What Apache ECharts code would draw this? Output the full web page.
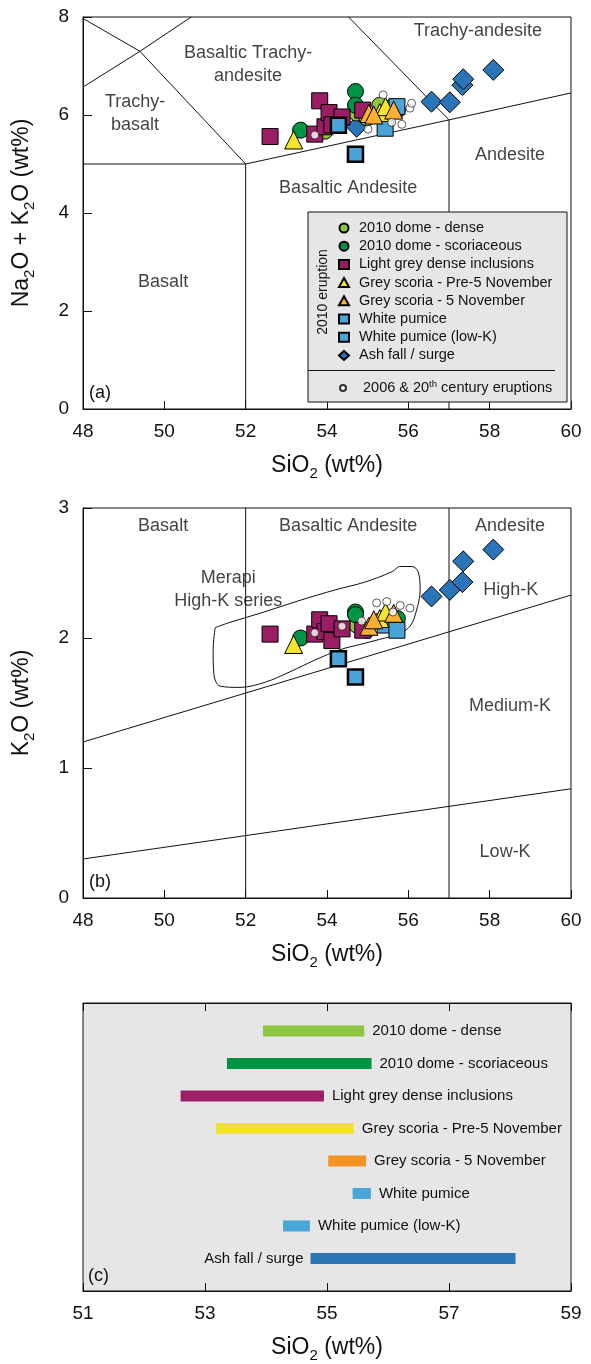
<!DOCTYPE html>
<html><head><meta charset="utf-8">
<script src="https://cdn.jsdelivr.net/npm/echarts@6/dist/echarts.min.js"></script>
<style>html,body{margin:0;padding:0;background:#fff}#c{width:591px;height:1364px}</style>
</head><body><div id="c"></div>
<script>
// ================= DATA =================
// 2010 dome - dense
const denseSiO2 = [53.95, 54.73, 54.98, 55.30, 55.61];
const denseTAS  = [5.67, 6.04, 5.94, 6.20, 6.17];
const denseK2O  = [2.05, 2.10, 2.06, 2.13, 2.16];
// 2010 dome - scoriaceous
const scorSiO2 = [53.35, 54.70, 54.70, 55.73];
const scorTAS  = [5.69, 6.48, 6.20, 6.10];
const scorK2O  = [2.00, 2.20, 2.18, 2.15];
// Light grey dense inclusions
const lgSiO2 = [52.60, 53.70, 53.82, 53.95, 54.05, 54.12, 54.37, 54.88];
const lgTAS  = [5.56, 5.61, 6.29, 5.76, 6.05, 5.80, 5.96, 6.10];
const lgK2O  = [2.03, 2.03, 2.14, 2.05, 2.11, 1.98, 2.07, 2.06];
// Grey scoria - Pre-5 November
const preSiO2 = [53.18, 55.30, 55.44];
const preTAS  = [5.49, 6.05, 6.17];
const preK2O  = [1.95, 2.15, 2.20];
// Grey scoria - 5 November
const novSiO2 = [55.03, 55.15, 55.64];
const novTAS  = [6.03, 6.00, 6.10];
const novK2O  = [2.09, 2.14, 2.19];
// White pumice
const wpSiO2 = [55.43, 55.72];
const wpTAS  = [5.73, 6.17];
const wpK2O  = [2.10, 2.06];
// White pumice (low-K)
const lkSiO2 = [54.28, 54.70];
const lkTAS  = [5.79, 5.20];
const lkK2O  = [1.84, 1.70];
// Ash fall / surge
const ashSiO2 = [54.73, 56.57, 57.02, 57.33, 57.35, 58.09];
const ashTAS  = [5.76, 6.27, 6.26, 6.61, 6.73, 6.92];
const ashK2O  = [2.10, 2.32, 2.37, 2.43, 2.59, 2.68];
// 2006 & 20th century eruptions
const oldSiO2a = [53.70, 55.01, 55.38, 55.59, 55.84, 56.04, 56.08];
const oldTAS   = [5.59, 5.71, 6.41, 5.85, 5.81, 6.14, 6.24];
const oldSiO2b = [53.70, 54.37, 54.85, 55.22, 55.47, 55.62, 55.80, 56.04];
const oldK2O   = [2.04, 2.09, 2.13, 2.27, 2.28, 2.20, 2.25, 2.23];

// Panel (c) SiO2 ranges
const rangeNames = ['2010 dome - dense', '2010 dome - scoriaceous', 'Light grey dense inclusions',
  'Grey scoria - Pre-5 November', 'Grey scoria - 5 November', 'White pumice',
  'White pumice (low-K)', 'Ash fall / surge'];
const rangeMin = [53.95, 53.36, 52.60, 53.18, 55.02, 55.42, 54.28, 54.73];
const rangeMax = [55.61, 55.73, 54.95, 55.44, 55.64, 55.72, 54.72, 58.09];

// Classification boundaries (SiO2, value)
const tasLines = [
  [[48, 7.97], [49.4, 7.3], [52, 5]],
  [[48, 6.57], [49.4, 7.3], [50.66, 8]],
  [[48, 5], [52, 5]],
  [[52, 0], [52, 5], [57, 5.9], [60, 6.45]],
  [[57, 0], [57, 5.9]],
  [[54.53, 8], [57, 5.9]]
];
const kLines = [
  [[52, 0], [52, 3]],
  [[57, 0], [57, 3]],
  [[48, 1.2], [60, 2.33]],
  [[48, 0.3], [60, 0.84]]
];
const merapiEnvelope = [[51.25,2.08],[51.61,2.12],[52.35,2.19],[53.34,2.29],[54.20,2.37],[54.93,2.43],
  [55.60,2.51],[55.79,2.55],[56.09,2.55],[56.24,2.51],[56.29,2.37],[56.19,2.20],[56.04,2.09],
  [55.75,2.03],[55.30,1.99],[54.81,1.95],[54.32,1.91],[53.70,1.83],[53.09,1.74],[52.48,1.66],
  [51.86,1.62],[51.37,1.63],[51.22,1.72],[51.20,1.91],[51.25,2.08]];

// Region labels [SiO2, value, text]
const tasLabels = [
  [57.71, 7.71, 'Trachy-andesite'],
  [52.06, 7.04, 'Basaltic Trachy-\nandesite'],
  [49.28, 6.04, 'Trachy-\nbasalt'],
  [58.50, 5.18, 'Andesite'],
  [54.52, 4.51, 'Basaltic Andesite'],
  [49.97, 2.59, 'Basalt']
];
const kLabels = [
  [49.97, 2.86, 'Basalt'],
  [54.52, 2.86, 'Basaltic Andesite'],
  [58.50, 2.86, 'Andesite'],
  [51.57, 2.37, 'Merapi\nHigh-K series'],
  [58.52, 2.37, 'High-K'],
  [58.50, 1.48, 'Medium-K'],
  [58.38, 0.35, 'Low-K']
];

// ================= STYLES =================
const FONT = '"Liberation Sans", Arial, sans-serif';
const INK = '#111111';
const groups = [
  {name: 'Ash fall / surge', x: ashSiO2, a: ashTAS, b: ashK2O, symbol: 'diamond', size: 21, color: '#2a74b8', bw: 1},
  {name: '2010 dome - dense', x: denseSiO2, a: denseTAS, b: denseK2O, symbol: 'circle', size: 16, color: '#8dc63f', bw: 1},
  {name: '2010 dome - scoriaceous', x: scorSiO2, a: scorTAS, b: scorK2O, symbol: 'circle', size: 16, color: '#009444', bw: 1},
  {name: 'Light grey dense inclusions', x: lgSiO2, a: lgTAS, b: lgK2O, symbol: 'rect', size: 16, color: '#9b1d64', bw: 1},
  {name: 'White pumice', x: wpSiO2, a: wpTAS, b: wpK2O, symbol: 'rect', size: 16, color: '#4ba4d8', bw: 1},
  {name: 'White pumice (low-K)', x: lkSiO2, a: lkTAS, b: lkK2O, symbol: 'rect', size: 15, color: '#4ba4d8', bw: 2.5},
  {name: 'Grey scoria - Pre-5 November', x: preSiO2, a: preTAS, b: preK2O, symbol: 'triangle', size: 18, color: '#f5e52c', bw: 1},
  {name: 'Grey scoria - 5 November', x: novSiO2, a: novTAS, b: novK2O, symbol: 'triangle', size: 18, color: '#fbb034', bw: 1}
];
const rangeColors = ['#8cc63f', '#009444', '#9e1f63', '#f0e22f', '#f39325', '#4ba6d8', '#4ba6d8', '#2b75b5'];

const pairs = (xs, ys) => xs.map((x, i) => [x, ys[i]]);
const richSub = {
  t: {fontSize: 23, lineHeight: 30, fontFamily: FONT, color: INK},
  s: {fontSize: 15, lineHeight: 16, verticalAlign: 'bottom', fontFamily: FONT, color: INK}
};
const sioName = '{t|SiO}{s|2}{t| (wt%)}';

function xAxisFor(grid, min, max) {
  return {
    type: 'value', gridIndex: grid, min: min, max: max, interval: 2,
    axisLine: {show: true, lineStyle: {color: INK, width: 1}},
    axisTick: {show: true, inside: true, length: 8, lineStyle: {color: INK}},
    axisLabel: {fontSize: 19, color: INK, fontFamily: FONT, margin: 13},
    splitLine: {show: false},
    name: sioName, nameLocation: 'middle', nameGap: 42,
    nameTextStyle: {rich: richSub}
  };
}

const series = [];
tasLines.forEach(seg => series.push({type: 'line', xAxisIndex: 0, yAxisIndex: 0, data: seg, symbol: 'none',
  silent: true, lineStyle: {color: INK, width: 1}, z: 1}));
kLines.forEach(seg => series.push({type: 'line', xAxisIndex: 1, yAxisIndex: 1, data: seg, symbol: 'none',
  silent: true, lineStyle: {color: INK, width: 1}, z: 1}));
series.push({type: 'line', xAxisIndex: 1, yAxisIndex: 1, data: merapiEnvelope, symbol: 'none', smooth: 0.35,
  silent: true, lineStyle: {color: INK, width: 1}, z: 1});

function labelSeries(xi, yi, arr) {
  return {type: 'scatter', xAxisIndex: xi, yAxisIndex: yi, symbolSize: 0, silent: true, z: 1,
    data: arr.map(d => ({value: [d[0], d[1]], name: d[2]})),
    label: {show: true, position: 'inside', formatter: '{b}', fontSize: 18, lineHeight: 23,
      color: INK, fontFamily: FONT, align: 'center'}};
}
series.push(labelSeries(0, 0, tasLabels));
series.push(labelSeries(1, 1, kLabels));

groups.forEach(g => {
  [['a', 0], ['b', 1]].forEach(([key, idx]) => {
    series.push({type: 'scatter', name: g.name, xAxisIndex: idx, yAxisIndex: idx,
      data: pairs(g.x, g[key]), symbol: g.symbol, symbolSize: g.size,
      itemStyle: {color: g.color, borderColor: '#000', borderWidth: g.bw, opacity: 1}, z: 3});
  });
});
series.push({type: 'scatter', name: '2006 & 20th century eruptions', xAxisIndex: 0, yAxisIndex: 0,
  data: pairs(oldSiO2a, oldTAS), symbol: 'circle', symbolSize: 8,
  itemStyle: {color: '#fff', borderColor: '#000', borderWidth: 0.8}, z: 4});
series.push({type: 'scatter', name: '2006 & 20th century eruptions', xAxisIndex: 1, yAxisIndex: 1,
  data: pairs(oldSiO2b, oldK2O), symbol: 'circle', symbolSize: 8,
  itemStyle: {color: '#fff', borderColor: '#000', borderWidth: 0.8}, z: 4});

// panel (c) range bars
series.push({
  type: 'custom', xAxisIndex: 2, yAxisIndex: 2, silent: true,
  data: rangeMin.map((m, i) => [m, rangeMax[i], i + 1]),
  encode: {x: [0, 1], y: 2},
  renderItem: function (params, api) {
    const i = params.dataIndex;
    const lo = api.coord([api.value(0), api.value(2)]);
    const hi = api.coord([api.value(1), api.value(2)]);
    const h = 11;
    const leftLabel = api.value(1) > 57;
    return {type: 'group', children: [
      {type: 'rect', shape: {x: lo[0], y: lo[1] - h / 2, width: hi[0] - lo[0], height: h},
        style: {fill: rangeColors[i]}},
      {type: 'text', style: {text: rangeNames[i], x: leftLabel ? lo[0] - 7 : hi[0] + 8, y: lo[1],
        textAlign: leftLabel ? 'right' : 'left', textVerticalAlign: 'middle',
        fontSize: 15, fontFamily: FONT, fill: INK}}
    ]};
  }
});

const legendNames = ['2010 dome - dense', '2010 dome - scoriaceous', 'Light grey dense inclusions',
  'Grey scoria - Pre-5 November', 'Grey scoria - 5 November', 'White pumice',
  'White pumice (low-K)', 'Ash fall / surge'];

const option = {
  animation: false,
  backgroundColor: '#fff',
  grid: [
    {left: 83, top: 17, width: 488, height: 392, show: true, borderColor: INK, borderWidth: 1},
    {left: 83, top: 508, width: 488, height: 390, show: true, borderColor: INK, borderWidth: 1},
    {left: 83, top: 1003, width: 488, height: 289, show: true, borderColor: INK, borderWidth: 1, backgroundColor: '#e6e6e6'}
  ],
  xAxis: [
    xAxisFor(0, 48, 60),
    xAxisFor(1, 48, 60),
    xAxisFor(2, 51, 59),
    {type: 'value', gridIndex: 2, position: 'top', min: 51, max: 59, interval: 2,
      axisLine: {show: true, lineStyle: {color: INK}}, axisLabel: {show: false},
      axisTick: {show: true, inside: true, length: 8, lineStyle: {color: INK}}, splitLine: {show: false}}
  ],
  yAxis: [
    {type: 'value', gridIndex: 0, min: 0, max: 8, interval: 2,
      axisLine: {show: true, lineStyle: {color: INK}},
      axisTick: {show: true, inside: true, length: 9, lineStyle: {color: INK}},
      axisLabel: {fontSize: 19, color: INK, fontFamily: FONT, margin: 14}, splitLine: {show: false},
      name: '{t|Na}{s|2}{t|O + K}{s|2}{t|O (wt%)}', nameLocation: 'middle', nameGap: 46, nameRotate: 90,
      nameTextStyle: {rich: richSub}},
    {type: 'value', gridIndex: 1, min: 0, max: 3, interval: 1,
      axisLine: {show: true, lineStyle: {color: INK}},
      axisTick: {show: true, inside: true, length: 9, lineStyle: {color: INK}},
      axisLabel: {fontSize: 19, color: INK, fontFamily: FONT, margin: 14}, splitLine: {show: false},
      name: '{t|K}{s|2}{t|O (wt%)}', nameLocation: 'middle', nameGap: 46, nameRotate: 90,
      nameTextStyle: {rich: richSub}},
    {type: 'value', gridIndex: 2, min: 0.14, max: 9, inverse: true, show: false}
  ],
  legend: [
    {data: legendNames, orient: 'vertical', left: 338, top: 220.5, padding: 0, itemWidth: 10, itemHeight: 9,
      itemGap: 3.2, selectedMode: false, z: 20,
      textStyle: {fontSize: 14.5, lineHeight: 15, color: INK, fontFamily: FONT, padding: [0, 0, 0, 5]}},
    {data: ['2006 & 20th century eruptions'], orient: 'vertical', left: 339, top: 379, padding: 0, itemWidth: 8, itemHeight: 6,
      selectedMode: false, z: 20,
      formatter: function () { return '{a|2006 & 20}{p|th}{a| century eruptions}'; },
      textStyle: {fontSize: 14.5, color: INK, fontFamily: FONT, padding: [0, 0, 0, 11],
        rich: {a: {fontSize: 14.5, lineHeight: 18, fontFamily: FONT, color: INK},
               p: {fontSize: 9.5, lineHeight: 10, verticalAlign: 'top', fontFamily: FONT, color: INK}}}}
  ],
  graphic: [
    {type: 'rect', z: 10, shape: {x: 308, y: 212, width: 259, height: 190},
      style: {fill: '#e6e6e6', stroke: INK, lineWidth: 1}},
    {type: 'line', z: 21, shape: {x1: 308, y1: 370.5, x2: 555, y2: 370.5}, style: {stroke: INK, lineWidth: 1}},
    {type: 'text', z: 21, x: 323, y: 292, rotation: Math.PI / 2,
      style: {text: '2010 eruption', fontSize: 14, fontFamily: FONT, fill: INK, textAlign: 'center', textVerticalAlign: 'middle'}},
    {type: 'text', z: 21, x: 89, y: 393, style: {text: '(a)', fontSize: 18, fontFamily: FONT, fill: INK, textVerticalAlign: 'middle'}},
    {type: 'text', z: 21, x: 89, y: 882, style: {text: '(b)', fontSize: 18, fontFamily: FONT, fill: INK, textVerticalAlign: 'middle'}},
    {type: 'text', z: 21, x: 88, y: 1276, style: {text: '(c)', fontSize: 18, fontFamily: FONT, fill: INK, textVerticalAlign: 'middle'}}
  ],
  series: series
};

const chart = echarts.init(document.getElementById('c'));
chart.setOption(option);
</script>
</body></html>
